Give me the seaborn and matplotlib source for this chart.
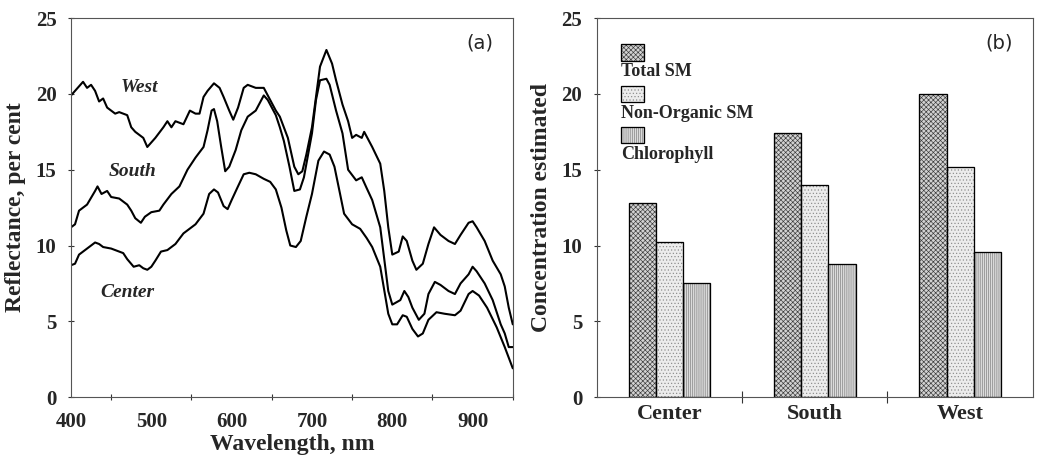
import numpy as np
import pandas as pd
import matplotlib
matplotlib.use("Agg")
import matplotlib.pyplot as plt
from matplotlib.ticker import MultipleLocator
from matplotlib.patches import Rectangle
import seaborn as sns

# ---- Reflectance spectra (wavelength in nm, reflectance in per cent) ----
west_wl = [400, 410, 415, 420, 425, 430, 435, 440, 445, 455, 460, 470, 475, 480,
           490, 495, 505, 515, 520, 525, 530, 540, 548, 555, 560, 565, 570, 578,
           585, 590, 597, 602, 608, 615, 620, 630, 640, 645, 655, 660, 670, 678,
           683, 688, 693, 700, 705, 710, 718, 725, 730, 738, 745, 750, 755, 762,
           765, 775, 785, 790, 795, 800, 808, 813, 818, 825, 830, 838, 845, 852,
           860, 870, 878, 885, 895, 900, 905, 915, 925, 935, 940, 945, 950]
west_r = [19.9, 20.5, 20.8, 20.4, 20.6, 20.2, 19.5, 19.7, 19.1, 18.7, 18.8, 18.6,
          17.8, 17.5, 17.1, 16.5, 17.1, 17.8, 18.2, 17.8, 18.2, 18.0, 18.9, 18.7,
          18.7, 19.8, 20.2, 20.7, 20.4, 19.8, 18.9, 18.3, 19.1, 20.4, 20.6, 20.4,
          20.4, 19.9, 18.9, 18.5, 17.1, 15.2, 14.7, 14.9, 16.0, 17.8, 19.8, 21.8,
          22.9, 22.0, 20.9, 19.3, 18.2, 17.1, 17.3, 17.1, 17.5, 16.5, 15.4, 13.6,
          11.2, 9.4, 9.6, 10.6, 10.3, 9.0, 8.4, 8.8, 10.1, 11.2, 10.7, 10.3, 10.1,
          10.7, 11.5, 11.6, 11.2, 10.3, 9.0, 8.1, 7.3, 5.9, 4.8]

south_wl = [400, 405, 410, 420, 430, 433, 438, 445, 450, 460, 470, 475, 480, 487,
            492, 500, 510, 515, 525, 535, 545, 555, 565, 570, 575, 578, 582, 587,
            592, 597, 605, 612, 620, 630, 640, 645, 650, 655, 660, 665, 672, 678,
            685, 690, 700, 705, 710, 718, 722, 730, 738, 745, 755, 762, 768, 775,
            785, 795, 800, 810, 815, 820, 825, 833, 840, 845, 853, 860, 870, 878,
            885, 895, 900, 905, 915, 925, 935, 940, 945, 950]
south_r = [11.2, 11.4, 12.3, 12.7, 13.6, 13.9, 13.4, 13.6, 13.2, 13.1, 12.7, 12.3,
           11.8, 11.5, 11.9, 12.2, 12.3, 12.7, 13.4, 13.9, 15.0, 15.8, 16.5, 17.6,
           18.9, 19.0, 18.2, 16.5, 14.9, 15.2, 16.3, 17.6, 18.5, 18.9, 19.9, 19.6,
           19.1, 18.6, 17.8, 16.9, 15.2, 13.6, 13.7, 14.5, 17.4, 19.6, 20.9, 21.0,
           20.6, 18.9, 17.4, 15.0, 14.3, 14.5, 13.8, 13.0, 11.2, 7.0, 6.1, 6.4, 7.0,
           6.6, 5.9, 5.1, 5.5, 6.8, 7.6, 7.4, 7.0, 6.8, 7.5, 8.1, 8.6, 8.3, 7.5, 6.4,
           4.8, 4.2, 3.3, 3.3]

center_wl = [400, 405, 410, 420, 430, 435, 440, 450, 460, 465, 470, 478, 485, 490,
             495, 500, 505, 512, 520, 530, 540, 550, 555, 565, 572, 578, 583, 590,
             595, 600, 607, 615, 622, 630, 640, 648, 655, 662, 668, 673, 680, 686,
             693, 700, 708, 715, 722, 728, 735, 740, 750, 760, 768, 775, 785, 795,
             800, 806, 813, 818, 825, 832, 838, 845, 855, 865, 878, 885, 895, 900,
             908, 918, 930, 940, 945, 950]
center_r = [8.7, 8.8, 9.4, 9.8, 10.2, 10.1, 9.9, 9.8, 9.6, 9.5, 9.1, 8.6, 8.7, 8.5,
            8.4, 8.6, 9.0, 9.6, 9.7, 10.1, 10.8, 11.2, 11.4, 12.1, 13.4, 13.7, 13.5,
            12.6, 12.4, 13.0, 13.8, 14.7, 14.8, 14.7, 14.4, 14.2, 13.7, 12.5, 11.0,
            10.0, 9.9, 10.3, 11.9, 13.4, 15.6, 16.2, 16.0, 15.2, 13.4, 12.1, 11.4,
            11.1, 10.5, 9.9, 8.6, 5.5, 4.8, 4.8, 5.4, 5.3, 4.5, 4.0, 4.2, 5.1, 5.6,
            5.5, 5.4, 5.7, 6.8, 7.0, 6.7, 5.9, 4.6, 3.3, 2.6, 1.9]

# ---- Estimated concentrations per site ----
sites = ["Center", "South", "West"]
components = ["Total SM", "Non-Organic SM", "Chlorophyll"]
total_sm = [12.8, 17.4, 20.0]
non_organic_sm = [10.2, 14.0, 15.2]
chlorophyll = [7.5, 8.8, 9.6]

spectra = pd.concat([
    pd.DataFrame({"wavelength": west_wl, "reflectance": west_r, "site": "West"}),
    pd.DataFrame({"wavelength": south_wl, "reflectance": south_r, "site": "South"}),
    pd.DataFrame({"wavelength": center_wl, "reflectance": center_r, "site": "Center"}),
])

conc = pd.DataFrame({
    "site": sites * 3,
    "component": [c for c in components for _ in sites],
    "value": total_sm + non_organic_sm + chlorophyll,
})

sns.set_theme(style="white")
plt.rcParams["font.family"] = ["Liberation Serif", "DejaVu Serif"]
plt.rcParams["hatch.linewidth"] = 0.45

fig = plt.figure(figsize=(10.38, 4.65), dpi=100)
ax1 = fig.add_axes([0.0684, 0.146, 0.4256, 0.815])
ax2 = fig.add_axes([0.575, 0.146, 0.420, 0.815])

TICK_SIZE = 15
label_font = dict(fontsize=17, fontweight="bold")

# ---- Panel (a): reflectance spectra ----
sns.lineplot(data=spectra, x="wavelength", y="reflectance", units="site",
             estimator=None, color="black", linewidth=1.5, sort=True, ax=ax1)
ax1.set_xlim(400, 950)
ax1.set_ylim(0, 25)
ax1.xaxis.set_major_locator(MultipleLocator(100))
ax1.xaxis.set_minor_locator(MultipleLocator(50))
ax1.yaxis.set_major_locator(MultipleLocator(5))
ax1.tick_params(axis="x", which="major", direction="inout", length=8, width=0.8,
                color="#333333", pad=7)
ax1.tick_params(axis="x", which="minor", direction="inout", length=5, width=0.8,
                color="#333333", bottom=True)
ax1.tick_params(axis="y", direction="inout", length=5, width=0.8, color="#333333",
                left=True, pad=8)
for lab in ax1.get_xticklabels() + ax1.get_yticklabels():
    lab.set_fontsize(TICK_SIZE)
    lab.set_fontweight("bold")
ax1.set_xlabel("Wavelength, nm", labelpad=1, **label_font)
ax1.set_ylabel("Reflectance, per cent", labelpad=7, **label_font)
ax1.text(0.955, 0.935, "(a)", transform=ax1.transAxes, ha="right", va="center",
         fontsize=14, family=["DejaVu Sans"])
label_style = dict(fontsize=14, fontweight="bold", fontstyle="italic", ha="center",
                   va="center")
ax1.text(485, 20.4, "West", **label_style)
ax1.text(476, 14.9, "South", **label_style)
ax1.text(470, 6.9, "Center", **label_style)

# ---- Panel (b): concentrations by site ----
fills = {"Total SM": "#d2d2d2", "Non-Organic SM": "#ececec", "Chlorophyll": "#dcdcdc"}
hatches = {"Total SM": "xxxxxxx", "Non-Organic SM": ".....", "Chlorophyll": "||||||||"}
hatch_ink = {"Total SM": "#3a3a3a", "Non-Organic SM": "#8a8a8a", "Chlorophyll": "#7a7a7a"}

sns.barplot(data=conc, x="site", y="value", hue="component", order=sites,
            hue_order=components, width=0.56, gap=0, ax=ax2, legend=False,
            linewidth=0.8, palette=[fills[c] for c in components])
for container, comp in zip(ax2.containers, components):
    for bar in container:
        bar.set_facecolor(fills[comp])
        bar.set_hatch(hatches[comp])
        bar.set_edgecolor(hatch_ink[comp])
        # crisp black outline on top of the hatched fill
        ax2.add_patch(Rectangle(bar.get_xy(), bar.get_width(), bar.get_height(),
                                fill=False, edgecolor="black", linewidth=0.9))
ax2.set_ylim(0, 25)
ax2.set_xlim(-0.5, 2.5)
ax2.yaxis.set_major_locator(MultipleLocator(5))
ax2.set_xticks([0, 1, 2])
ax2.set_xticks([0.5, 1.5], minor=True)
ax2.tick_params(axis="x", which="major", length=0, pad=5)
ax2.tick_params(axis="x", which="minor", direction="inout", length=8, width=0.8,
                color="#333333", bottom=True)
ax2.tick_params(axis="y", direction="inout", length=5, width=0.8, color="#333333",
                left=True, pad=8)
for lab in ax2.get_xticklabels() + ax2.get_yticklabels():
    lab.set_fontsize(TICK_SIZE)
    lab.set_fontweight("bold")
for lab in ax2.get_xticklabels():
    lab.set_fontsize(16)
ax2.set_xlabel("")
ax2.set_ylabel("Concentration estimated", labelpad=7, **label_font)
ax2.text(0.955, 0.935, "(b)", transform=ax2.transAxes, ha="right", va="center",
         fontsize=14, family=["DejaVu Sans"])

# Legend: swatch above each label
for i, comp in enumerate(components):
    y_sw = 0.888 - i * 0.109
    ax2.add_patch(Rectangle((0.055, y_sw), 0.053, 0.043, transform=ax2.transAxes,
                            facecolor=fills[comp], hatch=hatches[comp],
                            edgecolor=hatch_ink[comp], linewidth=0.8))
    ax2.add_patch(Rectangle((0.055, y_sw), 0.053, 0.043, transform=ax2.transAxes,
                            fill=False, edgecolor="black", linewidth=0.9))
    ax2.text(0.055, y_sw - 0.03, comp, transform=ax2.transAxes, ha="left",
             va="center", fontsize=13, fontweight="bold")

for ax in (ax1, ax2):
    for s in ax.spines.values():
        s.set_visible(True)
        s.set_color("#555555")
        s.set_linewidth(0.8)

fig.savefig("out.png", dpi=100)
